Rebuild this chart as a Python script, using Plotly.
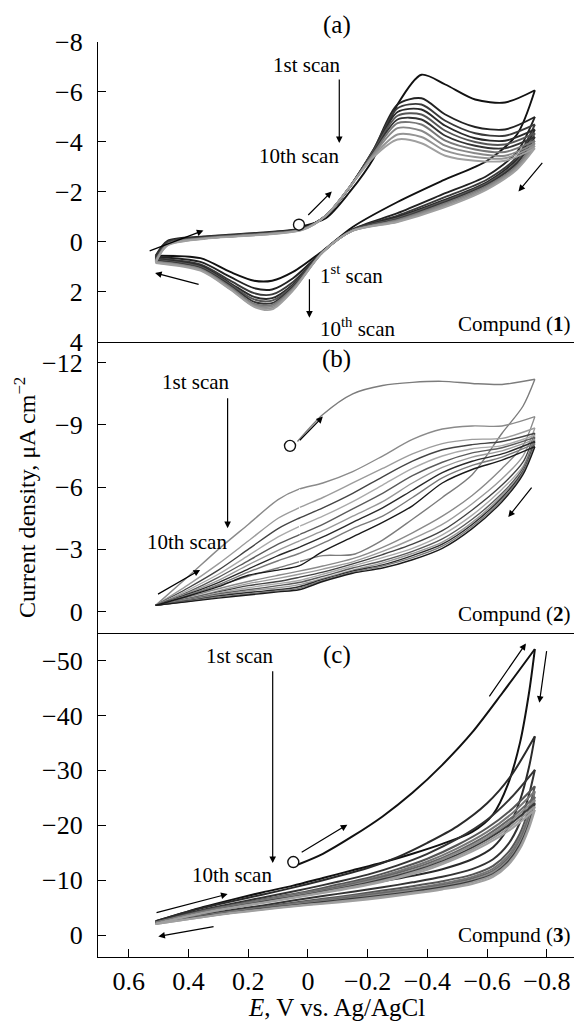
import plotly.graph_objects as go

FONT = "Liberation Serif"

# ---------------- Panel (a): Compound 1 ----------------
a_fwd_E = [0.51, 0.47, 0.35, 0.15, 0.02, -0.06, -0.14, -0.22, -0.30, -0.38, -0.46, -0.56, -0.66, -0.76]
a_rev_E = [-0.76, -0.70, -0.60, -0.45, -0.30, -0.15, -0.05, 0.05, 0.12, 0.18, 0.26, 0.36, 0.51]
a_scan1_fwd_E = [0.03, -0.06, -0.14, -0.22, -0.30, -0.38, -0.46, -0.56, -0.66, -0.76]
a_scan1_fwd_I = [-0.6, -0.95, -2.0, -3.35, -5.5, -6.69, -6.3, -5.7, -5.58, -6.07]
a_fwd_I = [  # scans 2..10
    [0.55, -0.05, -0.22, -0.38, -0.55, -1.05, -2.2, -3.7, -5.5, -5.75, -5.1, -4.6, -4.5, -5.0],
    [0.60, 0.00, -0.20, -0.36, -0.53, -1.05, -2.2, -3.7, -5.35, -5.5, -4.85, -4.35, -4.25, -4.7],
    [0.65, 0.02, -0.18, -0.35, -0.52, -1.05, -2.2, -3.65, -5.2, -5.3, -4.65, -4.15, -4.05, -4.5],
    [0.70, 0.04, -0.17, -0.34, -0.51, -1.05, -2.2, -3.65, -5.05, -5.1, -4.45, -4.0, -3.9, -4.35],
    [0.72, 0.06, -0.16, -0.33, -0.50, -1.05, -2.2, -3.6, -4.9, -4.9, -4.25, -3.85, -3.75, -4.2],
    [0.75, 0.08, -0.15, -0.32, -0.50, -1.05, -2.2, -3.55, -4.75, -4.7, -4.05, -3.7, -3.6, -4.05],
    [0.78, 0.10, -0.14, -0.31, -0.49, -1.05, -2.2, -3.5, -4.55, -4.45, -3.85, -3.55, -3.45, -3.95],
    [0.80, 0.12, -0.13, -0.30, -0.48, -1.05, -2.2, -3.45, -4.3, -4.2, -3.65, -3.4, -3.35, -3.85],
    [0.82, 0.14, -0.12, -0.29, -0.47, -1.05, -2.2, -3.4, -4.1, -3.95, -3.45, -3.25, -3.25, -3.75],
]
a_rev_I = [  # scans 1..10
    [-6.07, -4.3, -3.25, -2.45, -1.6, -0.6, 0.35, 1.2, 1.55, 1.55, 1.2, 0.65, 0.55],
    [-5.0, -3.6, -2.65, -1.9, -1.15, -0.5, 0.38, 1.45, 1.9, 1.85, 1.4, 0.8, 0.60],
    [-4.7, -3.4, -2.5, -1.75, -1.05, -0.5, 0.38, 1.6, 2.1, 2.05, 1.55, 0.9, 0.65],
    [-4.5, -3.3, -2.4, -1.65, -1.0, -0.48, 0.39, 1.7, 2.25, 2.2, 1.65, 0.95, 0.70],
    [-4.35, -3.2, -2.35, -1.6, -0.95, -0.47, 0.39, 1.75, 2.35, 2.3, 1.7, 1.0, 0.72],
    [-4.2, -3.15, -2.3, -1.55, -0.9, -0.46, 0.4, 1.8, 2.45, 2.4, 1.75, 1.05, 0.75],
    [-4.05, -3.05, -2.25, -1.5, -0.88, -0.46, 0.4, 1.85, 2.52, 2.48, 1.8, 1.08, 0.78],
    [-3.95, -3.0, -2.2, -1.45, -0.85, -0.45, 0.4, 1.9, 2.58, 2.53, 1.85, 1.1, 0.80],
    [-3.85, -2.95, -2.15, -1.4, -0.82, -0.45, 0.4, 1.92, 2.64, 2.57, 1.88, 1.12, 0.82],
    [-3.75, -2.9, -2.1, -1.35, -0.8, -0.45, 0.4, 1.95, 2.7, 2.6, 1.9, 1.15, 0.84],
]
a_start = [0.03, -0.69]

# ---------------- Panel (b): Compound 2 ----------------
b_fwd_E = [0.51, 0.40, 0.30, 0.20, 0.10, 0.03, -0.05, -0.15, -0.25, -0.35, -0.45, -0.55, -0.65, -0.76]
b_rev_E = [-0.76, -0.72, -0.65, -0.55, -0.45, -0.35, -0.25, -0.15, -0.05, 0.03, 0.10, 0.20, 0.30, 0.40, 0.51]
b_scan1_fwd_E = [0.035, -0.05, -0.15, -0.25, -0.35, -0.45, -0.55, -0.65, -0.76]
b_scan1_fwd_I = [-8.2, -9.5, -10.5, -10.9, -11.05, -11.1, -11.0, -10.95, -11.2]
b_fwd_I = [  # scans 2..10
    [-0.3, -1.7, -3.0, -4.2, -5.4, -5.9, -6.2, -6.75, -7.5, -8.3, -8.8, -8.95, -8.95, -9.4],
    [-0.3, -1.3, -2.3, -3.4, -4.5, -5.0, -5.5, -6.2, -6.9, -7.6, -8.1, -8.3, -8.35, -8.85],
    [-0.3, -1.15, -2.0, -3.0, -4.0, -4.5, -5.0, -5.7, -6.5, -7.25, -7.8, -8.05, -8.2, -8.6],
    [-0.3, -1.05, -1.8, -2.7, -3.6, -4.1, -4.6, -5.3, -6.1, -6.9, -7.5, -7.85, -8.0, -8.5],
    [-0.3, -0.95, -1.65, -2.45, -3.25, -3.7, -4.2, -4.95, -5.7, -6.55, -7.2, -7.65, -7.9, -8.4],
    [-0.3, -0.9, -1.5, -2.25, -2.95, -3.4, -3.9, -4.6, -5.3, -6.2, -6.95, -7.45, -7.75, -8.3],
    [-0.3, -0.85, -1.4, -2.05, -2.7, -3.1, -3.6, -4.3, -5.0, -5.85, -6.7, -7.25, -7.6, -8.2],
    [-0.3, -0.8, -1.3, -1.9, -2.45, -2.8, -3.3, -4.0, -4.6, -5.5, -6.45, -7.05, -7.45, -8.1],
    [-0.3, -0.75, -1.2, -1.75, -2.0, -2.2, -2.9, -3.6, -4.3, -5.1, -6.2, -6.85, -7.3, -7.95],
]
b_rev_I = [  # scans 1..10
    [-11.2, -9.9, -8.6, -6.6, -5.5, -4.45, -3.45, -2.75, -2.7, -2.4, -2.1, -1.7, -1.25, -0.8, -0.3],
    [-9.4, -8.0, -6.9, -5.6, -4.6, -3.8, -3.1, -2.55, -2.2, -1.95, -1.75, -1.45, -1.1, -0.7, -0.3],
    [-8.85, -7.5, -6.4, -5.2, -4.2, -3.5, -2.9, -2.4, -2.05, -1.8, -1.6, -1.35, -1.0, -0.65, -0.3],
    [-8.6, -7.2, -6.1, -4.9, -3.9, -3.25, -2.75, -2.3, -1.9, -1.65, -1.45, -1.25, -0.95, -0.62, -0.3],
    [-8.5, -7.0, -5.9, -4.65, -3.7, -3.05, -2.6, -2.2, -1.8, -1.5, -1.35, -1.15, -0.9, -0.6, -0.3],
    [-8.4, -6.9, -5.7, -4.45, -3.5, -2.9, -2.45, -2.1, -1.7, -1.4, -1.25, -1.05, -0.85, -0.57, -0.3],
    [-8.3, -6.8, -5.6, -4.3, -3.35, -2.8, -2.35, -2.0, -1.6, -1.3, -1.15, -1.0, -0.8, -0.55, -0.3],
    [-8.2, -6.75, -5.5, -4.2, -3.25, -2.7, -2.25, -1.95, -1.55, -1.2, -1.05, -0.92, -0.75, -0.52, -0.3],
    [-8.1, -6.7, -5.4, -4.1, -3.15, -2.6, -2.2, -1.9, -1.5, -1.12, -1.0, -0.85, -0.7, -0.5, -0.3],
    [-7.95, -6.6, -5.3, -4.0, -3.05, -2.5, -2.1, -1.85, -1.45, -1.05, -0.95, -0.8, -0.65, -0.48, -0.3],
]
b_start = [0.06, -7.99]
b_gap_E = [0.028, 0.028]
b_gap_I = [-5.9, -2.0]

# ---------------- Panel (c): Compound 3 ----------------
c_fwd_E = [0.51, 0.40, 0.30, 0.20, 0.10, 0.0, -0.10, -0.20, -0.30, -0.40, -0.50, -0.60, -0.68, -0.76]
c_rev_E = [-0.76, -0.74, -0.71, -0.67, -0.62, -0.55, -0.45, -0.35, -0.25, -0.15, -0.05, 0.05, 0.15, 0.25, 0.35, 0.51]
c_scan1_fwd_E = [0.035, -0.05, -0.15, -0.25, -0.35, -0.45, -0.55, -0.65, -0.76]
c_scan1_fwd_I = [-12.8, -14.8, -18.0, -21.6, -25.9, -31.0, -36.9, -44.0, -52.1]
c_fwd_I = [  # scans 2..10
    [-2.5, -4.3, -5.6, -6.8, -8.0, -9.3, -10.7, -12.2, -14.2, -16.8, -19.8, -24.0, -29.0, -36.2],
    [-2.4, -4.0, -5.2, -6.3, -7.4, -8.5, -9.7, -11.0, -12.7, -14.8, -17.5, -21.0, -25.0, -30.1],
    [-2.3, -3.8, -5.0, -6.0, -7.0, -8.0, -9.2, -10.4, -12.0, -13.9, -16.4, -19.5, -22.8, -27.1],
    [-2.3, -3.7, -4.9, -5.9, -6.9, -7.8, -8.9, -10.1, -11.6, -13.4, -15.8, -18.8, -22.0, -26.2],
    [-2.2, -3.6, -4.8, -5.8, -6.7, -7.6, -8.7, -9.9, -11.3, -13.0, -15.3, -18.2, -21.3, -25.2],
    [-2.2, -3.6, -4.7, -5.7, -6.6, -7.5, -8.5, -9.7, -11.0, -12.7, -15.0, -17.8, -20.8, -24.6],
    [-2.1, -3.5, -4.6, -5.6, -6.5, -7.4, -8.4, -9.5, -10.8, -12.4, -14.6, -17.4, -20.3, -24.0],
    [-2.1, -3.5, -4.6, -5.5, -6.4, -7.3, -8.3, -9.3, -10.6, -12.2, -14.3, -17.0, -19.8, -23.4],
    [-2.0, -3.4, -4.5, -5.4, -6.3, -7.2, -8.1, -9.1, -10.4, -11.9, -14.0, -16.6, -19.3, -22.8],
]
c_rev_I = [  # scans 1..10
    [-52.1, -44.0, -35.0, -27.5, -22.0, -18.8, -16.6, -14.8, -13.2, -11.8, -10.4, -9.0, -7.8, -6.5, -5.1, -2.5],
    [-36.2, -30.5, -24.5, -19.5, -16.0, -13.8, -12.0, -10.8, -9.8, -8.9, -8.0, -7.0, -6.0, -5.0, -4.0, -2.4],
    [-30.1, -25.5, -20.5, -16.5, -13.8, -12.0, -10.6, -9.6, -8.7, -7.9, -7.1, -6.3, -5.4, -4.6, -3.7, -2.3],
    [-27.1, -23.0, -18.5, -15.0, -12.6, -11.0, -9.8, -8.9, -8.1, -7.3, -6.6, -5.9, -5.1, -4.4, -3.6, -2.3],
    [-26.2, -22.0, -17.8, -14.4, -12.1, -10.6, -9.4, -8.5, -7.8, -7.1, -6.4, -5.7, -5.0, -4.3, -3.5, -2.2],
    [-25.2, -21.2, -17.2, -13.9, -11.7, -10.3, -9.1, -8.3, -7.6, -6.9, -6.2, -5.6, -4.9, -4.2, -3.5, -2.2],
    [-24.6, -20.7, -16.8, -13.6, -11.4, -10.0, -8.9, -8.1, -7.4, -6.7, -6.1, -5.5, -4.8, -4.2, -3.4, -2.1],
    [-24.0, -20.2, -16.4, -13.3, -11.1, -9.8, -8.7, -7.9, -7.2, -6.6, -6.0, -5.4, -4.8, -4.1, -3.4, -2.1],
    [-23.4, -19.8, -16.0, -13.0, -10.9, -9.6, -8.5, -7.7, -7.0, -6.4, -5.8, -5.3, -4.7, -4.1, -3.3, -2.0],
    [-22.8, -19.4, -15.7, -12.7, -10.6, -9.3, -8.3, -7.5, -6.8, -6.2, -5.7, -5.2, -4.6, -4.0, -3.3, -2.0],
]
c_start = [0.049, -13.3]

# ---------------- Axis ticks ----------------
x_tickvals = [0.6, 0.4, 0.2, 0.0, -0.2, -0.4, -0.6, -0.8]
x_ticktext = ["0.6", "0.4", "0.2", "0", "\u22120.2", "\u22120.4", "\u22120.6", "\u22120.8"]
a_tickvals = [-8, -6, -4, -2, 0, 2, 4]
b_tickvals = [-12, -9, -6, -3, 0]
c_tickvals = [-50, -40, -30, -20, -10, 0]

# ---------------- Styles ----------------
a_colors = ["#111111", "#222222", "#3a3a3a", "#2a2a2a", "#555555", "#333333", "#777777", "#888888", "#949494", "#a0a0a0"]
b_colors = ["#7c7c7c", "#8a8a8a", "#9c9c9c", "#444444", "#aaaaaa", "#5a5a5a", "#999999", "#2a2a2a", "#7a7a7a", "#1a1a1a"]
c_colors = ["#111111", "#2a2a2a", "#333333", "#555555", "#777777", "#666666", "#8a8a8a", "#3a3a3a", "#999999", "#a0a0a0"]

fig = go.Figure()


def add_panel(xa, ya, s1E, s1I, fE, fI, rE, rI, colors, width):
    fig.add_trace(go.Scatter(x=s1E, y=s1I, mode="lines", xaxis=xa, yaxis=ya,
                             line=dict(color=colors[0], width=width, shape="spline", smoothing=0.8),
                             showlegend=False, hoverinfo="skip"))
    for k in range(len(rI)):
        if k >= 1:
            fig.add_trace(go.Scatter(x=fE, y=fI[k - 1], mode="lines", xaxis=xa, yaxis=ya,
                                     line=dict(color=colors[k], width=width, shape="spline", smoothing=0.8),
                                     showlegend=False, hoverinfo="skip"))
        fig.add_trace(go.Scatter(x=rE, y=rI[k], mode="lines", xaxis=xa, yaxis=ya,
                                 line=dict(color=colors[k], width=width, shape="spline", smoothing=0.8),
                                 showlegend=False, hoverinfo="skip"))


add_panel("x", "y", a_scan1_fwd_E, a_scan1_fwd_I, a_fwd_E, a_fwd_I, a_rev_E, a_rev_I, a_colors, 1.9)
add_panel("x2", "y2", b_scan1_fwd_E, b_scan1_fwd_I, b_fwd_E, b_fwd_I, b_rev_E, b_rev_I, b_colors, 1.4)
add_panel("x3", "y3", c_scan1_fwd_E, c_scan1_fwd_I, c_fwd_E, c_fwd_I, c_rev_E, c_rev_I, c_colors, 2.0)

fig.add_trace(go.Scatter(x=b_gap_E, y=b_gap_I, mode="lines", xaxis="x2", yaxis="y2",
                         line=dict(color="white", width=1.2, dash="dot"), showlegend=False, hoverinfo="skip"))

for st, xa, ya in [(a_start, "x", "y"), (b_start, "x2", "y2"), (c_start, "x3", "y3")]:
    fig.add_trace(go.Scatter(x=[st[0]], y=[st[1]], mode="markers", xaxis=xa, yaxis=ya,
                             marker=dict(symbol="circle", size=11, color="white",
                                         line=dict(color="#111111", width=1.4)),
                             showlegend=False, hoverinfo="skip"))

tickfont = dict(family=FONT, size=26, color="black")
XR = [0.703, -0.891]

common_x = dict(range=XR, showgrid=False, zeroline=False, showline=True, linecolor="black",
                linewidth=1.3, domain=[0, 1])
common_y = dict(showgrid=False, zeroline=False, showline=True, linecolor="black", linewidth=1.3,
                ticks="inside", ticklen=8, tickwidth=1.2, tickcolor="black", tickfont=tickfont,
                tickmode="array", ticklabelstandoff=9)

fig.update_layout(
    width=574, height=1024,
    margin=dict(l=98, r=0, t=42, b=67),
    paper_bgcolor="white", plot_bgcolor="white",
    font=dict(family=FONT, color="black"),
    xaxis=dict(anchor="y", ticks="", showticklabels=False, **common_x),
    xaxis2=dict(anchor="y2", ticks="", showticklabels=False, **common_x),
    xaxis3=dict(anchor="y3", ticks="inside", ticklen=8, tickwidth=1.2, tickcolor="black",
                tickmode="array", tickvals=x_tickvals, ticktext=x_ticktext, tickfont=tickfont,
                ticklabelstandoff=1, **common_x),
    yaxis=dict(domain=[0.6722, 1.0], range=[4, -8], tickvals=a_tickvals, anchor="x", **common_y),
    yaxis2=dict(domain=[0.3546, 0.6722], range=[1.01, -13.0], tickvals=b_tickvals, anchor="x2", **common_y),
    yaxis3=dict(domain=[0.0, 0.3546], range=[4.0, -55.1], tickvals=c_tickvals, anchor="x3", **common_y),
)

anns = []


def text(x, y, s, xref, yref, xanchor="center", size=21):
    anns.append(dict(x=x, y=y, xref=xref, yref=yref, text=s, showarrow=False,
                     xanchor=xanchor, yanchor="middle", font=dict(family=FONT, size=size, color="black")))


def arrow(x0, y0, x1, y1, xref, yref):
    anns.append(dict(x=x1, y=y1, ax=x0, ay=y0, xref=xref, yref=yref, axref=xref, ayref=yref,
                     text="", showarrow=True, arrowhead=2, arrowsize=1.1, arrowwidth=1.2,
                     arrowcolor="black", standoff=0, startstandoff=0))


# Panel (a)
text(0.502, 1.0186, "(a)", "paper", "paper", size=25)
text(0.003, -7.09, "1st scan", "x", "y")
arrow(-0.105, -6.56, -0.105, -3.96, "x", "y")
text(0.031, -3.42, "10th scan", "x", "y")
arrow(0.004, -1.02, -0.08, -2.02, "x", "y")
arrow(0.535, 0.38, 0.35, -0.46, "x", "y")
arrow(0.361, 1.71, 0.512, 1.24, "x", "y")
arrow(-0.789, -3.22, -0.705, -2.02, "x", "y")
text(-0.034, 1.31, "1<sup>st</sup> scan", "x", "y", xanchor="left")
arrow(-0.005, 1.43, -0.005, 3.03, "x", "y")
text(-0.034, 3.43, "10<sup>th</sup> scan", "x", "y", xanchor="left")
text(0.998, 0.6919, "Compund (<b>1</b>)", "paper", "paper", xanchor="right")

# Panel (b)
text(0.502, 0.654, "(b)", "paper", "paper", size=25)
text(0.375, -11.08, "1st scan", "x2", "y2")
arrow(0.269, -10.36, 0.269, -4.02, "x2", "y2")
text(0.404, -3.37, "10th scan", "x2", "y2")
arrow(0.032, -8.19, -0.05, -9.4, "x2", "y2")
arrow(0.507, -0.8, 0.361, -2.01, "x2", "y2")
arrow(-0.753, -6.05, -0.671, -4.56, "x2", "y2")
text(0.998, 0.375, "Compund (<b>2</b>)", "paper", "paper", xanchor="right")

# Panel (c)
text(0.502, 0.330, "(c)", "paper", "paper", size=25)
text(0.227, -50.9, "1st scan", "x3", "y3")
arrow(0.118, -48.3, 0.118, -13.1, "x3", "y3")
text(0.255, -11.0, "10th scan", "x3", "y3")
arrow(0.026, -14.9, -0.132, -20.1, "x3", "y3")
arrow(0.512, -4.0, 0.269, -7.47, "x3", "y3")
arrow(0.311, -1.57, 0.501, 0.26, "x3", "y3")
arrow(-0.604, -43.2, -0.73, -53.1, "x3", "y3")
arrow(-0.8, -52.0, -0.775, -42.3, "x3", "y3")
text(0.998, 0.0236, "Compund (<b>3</b>)", "paper", "paper", xanchor="right")

# Axis titles
text(0.5, -0.0554, "<i>E</i>, V vs. Ag/AgCl", "paper", "paper", size=25)
anns.append(dict(x=-0.155, y=0.502, xref="paper", yref="paper",
                 text="Current density, \u03bcA cm<sup>\u22122</sup>",
                 showarrow=False, textangle=-90, xanchor="center", yanchor="middle",
                 font=dict(family=FONT, size=24, color="black")))

fig.update_layout(annotations=anns)
fig.write_html("out.html", config={"displayModeBar": False},
               post_script="document.body.style.margin='0px';document.body.style.padding='0px';")
